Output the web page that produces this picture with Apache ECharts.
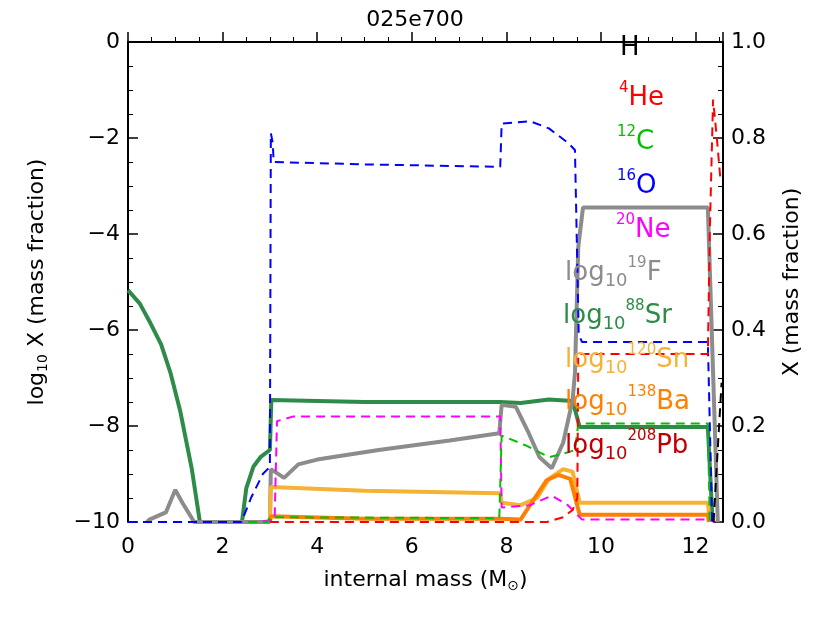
<!DOCTYPE html>
<html><head><meta charset="utf-8">
<script src="https://cdn.jsdelivr.net/npm/echarts@6/dist/echarts.min.js"></script>
<style>html,body{margin:0;background:#fff}#main{width:830px;height:623px}</style>
</head><body><div id="main"></div>
<script>
// mass fractions (right axis, linear), [mass, X]
var hydrogen = [[12.38, 0], [12.45, 0.12], [12.55, 0.29]];
var helium4 = [[3.0, 0], [8.86, 0], [9.2, 0.01], [9.4, 0.025], [9.5, 0.05], [9.52, 0.35], [12.26, 0.35], [12.3, 0.6], [12.37, 0.88], [12.45, 0.8], [12.52, 0.72]];
var carbon12 = [[0, 0], [2.95, 0], [3.0, 0.01], [7.85, 0.008], [7.9, 0.18], [8.4, 0.16], [8.9, 0.135], [9.3, 0.145], [9.45, 0.15], [9.52, 0.205], [12.26, 0.205], [12.3, 0]];
var oxygen16 = [[0, 0], [2.4, 0], [2.6, 0.05], [2.85, 0.1], [3.0, 0.115], [3.02, 0.81], [3.06, 0.79], [3.08, 0.75], [5, 0.745], [7.87, 0.74], [7.9, 0.83], [8.5, 0.835], [8.9, 0.82], [9.3, 0.79], [9.45, 0.775], [9.53, 0.39], [9.6, 0.375], [12.26, 0.375], [12.35, 0]];
var neon20 = [[0, 0], [2.75, 0], [3.1, 0.005], [3.15, 0.21], [3.5, 0.22], [7.87, 0.22], [7.9, 0.03], [8.5, 0.035], [8.96, 0.055], [9.3, 0.035], [9.5, 0.015], [9.6, 0.005], [12.3, 0.005], [12.4, 0]];
// log10 mass fractions (left axis)
var fluorine19 = [[0.4, -10], [0.45, -9.95], [0.8, -9.8], [1.0, -9.33], [1.15, -9.6], [1.4, -10], [3.0, -10], [3.02, -8.9], [3.1, -8.95], [3.3, -9.08], [3.6, -8.8], [4.0, -8.7], [5.3, -8.5], [6.8, -8.3], [7.85, -8.15], [7.9, -7.56], [8.2, -7.6], [8.45, -8.1], [8.7, -8.65], [8.96, -8.88], [9.2, -8.35], [9.4, -7.46], [9.45, -6.9], [9.52, -4.27], [9.62, -3.45], [12.26, -3.45], [12.47, -10]];
var strontium88 = [[0, -5.17], [0.25, -5.45], [0.47, -5.85], [0.7, -6.3], [0.9, -6.9], [1.1, -7.67], [1.35, -8.9], [1.52, -10], [2.41, -10], [2.5, -9.3], [2.65, -8.85], [2.8, -8.65], [3.0, -8.5], [3.03, -7.46], [5, -7.5], [7.87, -7.5], [8.3, -7.52], [8.9, -7.45], [9.4, -7.48], [9.55, -8.02], [12.26, -8.02], [12.36, -10]];
var tin120 = [[3.0, -10], [3.02, -9.27], [5, -9.35], [7.87, -9.4], [7.9, -9.6], [8.3, -9.65], [8.65, -9.5], [8.9, -9.1], [9.2, -8.9], [9.4, -8.95], [9.55, -9.6], [12.26, -9.6], [12.3, -10]];
var barium138 = [[3.0, -10], [3.02, -9.88], [5, -9.93], [7.87, -9.93], [8.3, -9.95], [8.6, -9.5], [8.85, -9.13], [9.1, -9.02], [9.35, -9.1], [9.55, -9.85], [12.26, -9.85], [12.28, -10]];
var xTicks = [0, 2, 4, 6, 8, 10, 12];

var chart = echarts.init(document.getElementById('main'));
var F = 'DejaVu Sans';
function axisCommon() {
  return {
    axisLine: { lineStyle: { color: '#000', width: 2 } },
    axisTick: { inside: true, length: 10, lineStyle: { color: '#000', width: 1.5 } },
    minorTick: { show: true, splitNumber: 4, length: 5, lineStyle: { color: '#000', width: 1 } },
    splitLine: { show: false },
    axisLabel: { color: '#000', fontSize: 22, fontFamily: F }
  };
}
var xa = axisCommon();
Object.assign(xa, { type: 'value', min: 0, max: 12.58, interval: 2,
  name: 'internal mass (M{s|⊙})', nameLocation: 'middle', nameGap: 45,
  nameTextStyle: { color: '#000', fontSize: 22, fontFamily: F, rich: { s: { fontSize: 14, verticalAlign: 'bottom', padding: [12, 0, 0, 0] } } },
  axisLabel: { color: '#000', fontSize: 22, fontFamily: F, margin: 14,
    formatter: function (v) { return xTicks.indexOf(v) >= 0 ? v : ''; } } });
var yl = axisCommon();
Object.assign(yl, { type: 'value', min: -10, max: 0, interval: 2, position: 'left',
  name: 'log{s|10} X (mass fraction)', nameLocation: 'middle', nameGap: 78, nameRotate: 90,
  nameTextStyle: { color: '#000', fontSize: 22, fontFamily: F, rich: { s: { fontSize: 14, padding: [12, 0, 0, 0] } } },
  axisLabel: { color: '#000', fontSize: 22, fontFamily: F, formatter: function (v) { return String(v).replace('-', '\u2212'); } } });
var yr = axisCommon();
Object.assign(yr, { type: 'value', min: 0, max: 1, interval: 0.2, position: 'right',
  name: 'X (mass fraction)', nameLocation: 'middle', nameGap: 58, nameRotate: 90,
  nameTextStyle: { color: '#000', fontSize: 22, fontFamily: F },
  axisLabel: { color: '#000', fontSize: 22, fontFamily: F, formatter: function (v) { return v.toFixed(1); } } });

function line(data, color, dashed, axis, width) {
  return { type: 'line', data: data, yAxisIndex: axis, showSymbol: false, symbol: 'none',
    lineStyle: { color: color, width: width, type: dashed ? [9, 6] : 'solid' }, z: dashed ? 3 : 2 };
}

var labels = [
  ['{m|H}', '#000', 52, 620],
  ['{p|4}{m|He}', '#ff0000', 98, 619],
  ['{p|12}{m|C}', '#00c000', 142, 617],
  ['{p|16}{m|O}', '#0000ff', 186, 617],
  ['{p|20}{m|Ne}', '#ff00ff', 230, 616],
  ['{m|log}{b|10}{p|19}{m|F}', '#8c8c8c', 273, 565],
  ['{m|log}{b|10}{p|88}{m|Sr}', '#2e8b4a', 316, 563],
  ['{m|log}{b|10}{p|120}{m|Sn}', '#f5b335', 360, 565],
  ['{m|log}{b|10}{p|138}{m|Ba}', '#ff8000', 402, 565],
  ['{m|log}{b|10}{p|208}{m|Pb}', '#c00000', 446, 565]
];
var graphic = labels.map(function (l) {
  return { type: 'text', left: l[3], top: l[2] - 17, z: 10,
    style: { text: l[0], fill: l[1], font: '26px ' + F,
      rich: { m: { fontSize: 26, fontFamily: F, fill: l[1], lineHeight: 34 },
              p: { fontSize: 15, fontFamily: F, fill: l[1], verticalAlign: 'top', lineHeight: 34, padding: [0, 0, 12, 0] },
              b: { fontSize: 18, fontFamily: F, fill: l[1], verticalAlign: 'bottom', lineHeight: 34, padding: [10, 0, 0, 0] } } } };
});

chart.setOption({
  animation: false,
  title: { text: '025e700', left: 'center', top: 4, textStyle: { fontSize: 22, fontWeight: 'normal', color: '#000', fontFamily: F } },
  grid: { left: 128, right: 107, top: 42, bottom: 101 },
  xAxis: xa,
  yAxis: [yl, yr],
  graphic: graphic,
  series: [
    line(strontium88, '#2e8b4a', false, 0, 4),
    line(fluorine19, '#8c8c8c', false, 0, 4),
    line(tin120, '#f5b335', false, 0, 4),
    line(barium138, '#ff8000', false, 0, 4),
    line(neon20, '#ff00ff', true, 1, 2),
    line(carbon12, '#00c000', true, 1, 2),
    line(oxygen16, '#0000ff', true, 1, 2),
    line(helium4, '#ff0000', true, 1, 2),
    line(hydrogen, '#000000', true, 1, 2)
  ]
});
</script></body></html>
